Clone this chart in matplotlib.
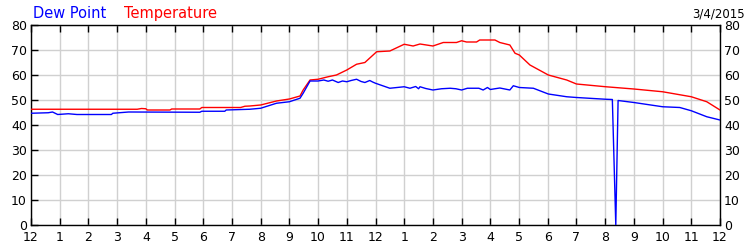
import matplotlib
matplotlib.use("Agg")
import matplotlib.pyplot as plt

# ---- data (hours since midnight, degrees F) ----
temp_hours = [0, 3.7, 3.85, 4.0, 4.05, 4.84, 4.9, 5.88, 5.95, 7.3, 7.45, 7.62, 8.0, 8.55, 9.0,
              9.37, 9.48, 9.72, 10.0, 10.35, 10.64, 11.0, 11.34, 11.63, 12.04, 12.5, 13.0,
              13.31, 13.55, 14.0, 14.36, 14.82, 15.0, 15.17, 15.52, 15.63, 16.16, 16.33,
              16.68, 16.86, 17.01, 17.38, 18.02, 18.66, 19.0, 20.02, 21.0, 22.0, 23.0, 23.54, 24.0]
temp_values = [46.3, 46.3, 46.6, 46.5, 46.0, 46.0, 46.4, 46.4, 47.0, 47.0, 47.5, 47.6, 48.0, 49.6, 50.4,
               51.6, 54.0, 58.0, 58.3, 59.3, 60.0, 62.0, 64.3, 65.0, 69.3, 69.6, 72.3,
               71.6, 72.4, 71.6, 73.0, 73.0, 73.7, 73.2, 73.2, 74.0, 74.0, 73.0,
               72.0, 68.7, 68.0, 64.0, 60.0, 58.0, 56.4, 55.3, 54.4, 53.3, 51.3, 49.3, 46.0]

dew_hours = [0, 0.6, 0.75, 0.93, 1.3, 1.6, 2.8, 2.85, 3.4, 5.88, 5.95, 6.75, 6.8, 7.62, 8.0, 8.55,
             9.0, 9.37, 9.48, 9.72, 10.0, 10.2, 10.35, 10.5, 10.7, 10.85, 11.0, 11.15, 11.34,
             11.5, 11.63, 11.8, 11.9, 12.0, 12.3, 12.5, 13.0, 13.2, 13.4, 13.5, 13.55, 13.75,
             14.0, 14.3, 14.6, 14.8, 15.0, 15.2, 15.6, 15.75, 15.9, 16.0, 16.16, 16.33, 16.68,
             16.8, 17.01, 17.5, 18.02, 18.66, 19.0, 20.02, 20.25, 20.37, 20.45, 21.0, 22.0,
             22.6, 23.0, 23.54, 24.0]
dew_values = [44.7, 44.9, 45.2, 44.2, 44.5, 44.2, 44.2, 44.7, 45.2, 45.1, 45.5, 45.5, 46.0, 46.3, 46.7, 48.7,
              49.3, 50.7, 52.7, 57.6, 57.6, 58.0, 57.5, 58.0, 57.0, 57.6, 57.3, 57.8, 58.3,
              57.4, 57.0, 57.8, 57.2, 56.7, 55.5, 54.7, 55.3, 54.7, 55.4, 54.5, 55.3, 54.6,
              54.0, 54.5, 54.7, 54.5, 54.0, 54.7, 54.7, 54.0, 55.0, 54.2, 54.5, 54.8, 54.0,
              55.7, 55.0, 54.7, 52.4, 51.3, 51.0, 50.3, 50.2, 0.0, 49.8, 49.0, 47.3,
              47.0, 45.7, 43.3, 42.0]

x_ticks = list(range(0, 25))
x_labels = ['12', '1', '2', '3', '4', '5', '6', '7', '8', '9', '10', '11',
            '12', '1', '2', '3', '4', '5', '6', '7', '8', '9', '10', '11', '12']
y_ticks = [0, 10, 20, 30, 40, 50, 60, 70, 80]
date_label = "3/4/2015"

fig = plt.figure(figsize=(7.5, 2.5), dpi=100)
ax = fig.add_axes([31 / 750, 0.1, (720 - 31) / 750, 0.8])

ax.plot(temp_hours, temp_values, color='#ff0000', lw=1.0, zorder=3)
ax.plot(dew_hours, dew_values, color='#0000ff', lw=1.0, zorder=3)

ax.set_xlim(0, 24)
ax.set_ylim(0, 80)
ax.set_xticks(x_ticks)
ax.set_xticklabels(x_labels)
ax.set_yticks(y_ticks)
ax.grid(True, color='#d0d0d0', lw=1.0, zorder=0)
ax.set_axisbelow(True)

for s in ax.spines.values():
    s.set_color('black')
    s.set_linewidth(1.0)

ax.tick_params(axis='x', which='both', direction='in', length=5, width=1, top=True, bottom=True,
               labelsize=9, pad=4, colors='black')
ax.tick_params(axis='y', which='both', direction='in', length=5, width=1, left=True, right=False,
               labelleft=True, labelright=True, labelsize=9, pad=3, colors='black')

fig.text(33 / 750, 1 - 18 / 250, "Dew Point", color='#0000ff', fontsize=10.5,
         family='DejaVu Sans', va='baseline', ha='left')
fig.text(124 / 750, 1 - 18 / 250, "Temperature", color='#ff0000', fontsize=10.5,
         family='DejaVu Sans', va='baseline', ha='left')
fig.text(745 / 750, 1 - 17 / 250, date_label, color='black', fontsize=8.5,
         va='baseline', ha='right')

fig.savefig("out.png", dpi=100)
